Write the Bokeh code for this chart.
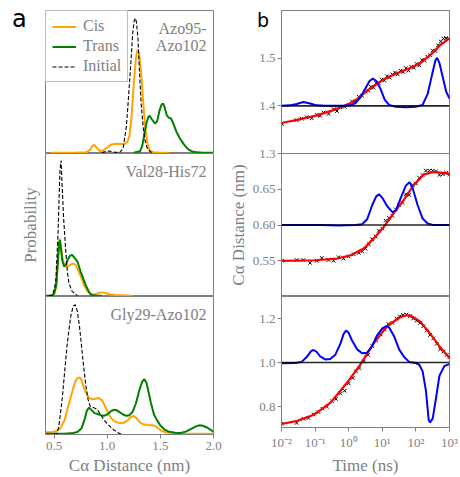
import numpy as np
from bokeh.plotting import figure
from bokeh.layouts import row, column
from bokeh.models import Range1d, FixedTicker, Label, Span, Legend, LegendItem, NumeralTickFormatter, Div
from bokeh.embed import file_html
from bokeh.resources import INLINE

# ---------------- data: panel a (probability distributions) ----------------
a1_cis_x = [0.47, 0.70, 0.80, 0.84, 0.865, 0.88, 0.90, 0.93, 0.96, 1.00, 1.04, 1.08, 1.12, 1.16, 1.19, 1.21, 1.23, 1.25, 1.27, 1.285, 1.30, 1.32, 1.34, 1.36, 1.38, 1.40, 1.43, 1.50, 1.58]
a1_cis_y = [0.0, 0.0, 0.002, 0.02, 0.05, 0.055, 0.035, 0.012, 0.015, 0.035, 0.058, 0.063, 0.060, 0.062, 0.075, 0.12, 0.26, 0.48, 0.66, 0.725, 0.70, 0.56, 0.34, 0.16, 0.06, 0.015, 0.003, 0.0, 0.0]
a1_trans_x = [1.25, 1.31, 1.33, 1.35, 1.37, 1.39, 1.40, 1.42, 1.45, 1.47, 1.49, 1.51, 1.525, 1.54, 1.56, 1.58, 1.60, 1.62, 1.65, 1.68, 1.72, 1.76, 1.80, 1.85, 1.90, 2.0]
a1_trans_y = [0.0, 0.01, 0.05, 0.13, 0.21, 0.255, 0.258, 0.235, 0.205, 0.22, 0.29, 0.335, 0.347, 0.32, 0.265, 0.245, 0.24, 0.21, 0.15, 0.105, 0.06, 0.025, 0.008, 0.002, 0.0, 0.0]
a1_init_x = [0.95, 0.99, 1.02, 1.05, 1.08, 1.12, 1.15, 1.18, 1.20, 1.22, 1.24, 1.255, 1.265, 1.275, 1.29, 1.305, 1.32, 1.34, 1.36, 1.38, 1.41, 1.44]
a1_init_y = [0.0, 0.008, 0.012, 0.006, 0.002, 0.003, 0.03, 0.18, 0.38, 0.60, 0.84, 0.93, 0.946, 0.92, 0.80, 0.55, 0.34, 0.17, 0.07, 0.025, 0.005, 0.0]

a2_cis_x = [0.42, 0.47, 0.50, 0.52, 0.535, 0.548, 0.555, 0.565, 0.58, 0.60, 0.625, 0.65, 0.68, 0.70, 0.72, 0.75, 0.78, 0.81, 0.84, 0.88, 0.92, 0.95, 0.98, 1.02, 1.08, 1.24]
a2_cis_y = [0.0, 0.0, 0.01, 0.06, 0.22, 0.37, 0.40, 0.35, 0.26, 0.21, 0.205, 0.215, 0.225, 0.22, 0.19, 0.14, 0.08, 0.035, 0.012, 0.008, 0.018, 0.023, 0.02, 0.01, 0.004, 0.0]
a2_trans_x = [0.42, 0.47, 0.50, 0.52, 0.535, 0.548, 0.555, 0.565, 0.58, 0.595, 0.61, 0.63, 0.65, 0.67, 0.69, 0.72, 0.75, 0.77, 0.80, 0.83, 0.85, 0.90, 0.95]
a2_trans_y = [0.0, 0.0, 0.01, 0.07, 0.22, 0.37, 0.39, 0.33, 0.24, 0.205, 0.215, 0.255, 0.28, 0.287, 0.27, 0.24, 0.17, 0.13, 0.07, 0.025, 0.005, 0.0, 0.0]
a2_init_x = [0.45, 0.485, 0.516, 0.538, 0.556, 0.566, 0.575, 0.59, 0.61, 0.625, 0.64, 0.67, 0.72]
a2_init_y = [0.0, 0.0, 0.09, 0.44, 0.88, 0.951, 0.80, 0.55, 0.32, 0.17, 0.09, 0.03, 0.0]

a3_cis_x = [0.42, 0.48, 0.52, 0.56, 0.60, 0.63, 0.656, 0.68, 0.70, 0.72, 0.744, 0.76, 0.78, 0.80, 0.83, 0.86, 0.89, 0.92, 0.95, 0.98, 1.01, 1.04, 1.07, 1.10, 1.13, 1.16, 1.19, 1.22, 1.25, 1.28, 1.31, 1.34, 1.38, 1.42, 1.45, 1.48, 1.51, 1.55, 1.60, 1.70, 2.0]
a3_cis_y = [0.01, 0.012, 0.018, 0.04, 0.10, 0.19, 0.26, 0.33, 0.38, 0.405, 0.41, 0.39, 0.34, 0.30, 0.26, 0.25, 0.255, 0.26, 0.245, 0.20, 0.15, 0.11, 0.09, 0.08, 0.078, 0.08, 0.095, 0.12, 0.13, 0.11, 0.08, 0.068, 0.063, 0.062, 0.058, 0.04, 0.022, 0.01, 0.003, 0.0, 0.0]
a3_trans_x = [0.42, 0.60, 0.68, 0.72, 0.76, 0.79, 0.81, 0.83, 0.85, 0.88, 0.91, 0.94, 0.97, 1.00, 1.03, 1.06, 1.09, 1.12, 1.15, 1.18, 1.21, 1.24, 1.27, 1.30, 1.33, 1.35, 1.37, 1.39, 1.41, 1.44, 1.47, 1.50, 1.54, 1.58, 1.64, 1.69, 1.74, 1.79, 1.84, 1.87, 1.90, 1.94, 1.97, 2.0]
a3_trans_y = [0.0, 0.0, 0.005, 0.012, 0.04, 0.11, 0.17, 0.19, 0.175, 0.15, 0.143, 0.135, 0.13, 0.14, 0.16, 0.174, 0.17, 0.155, 0.14, 0.13, 0.135, 0.16, 0.22, 0.31, 0.38, 0.397, 0.37, 0.30, 0.23, 0.14, 0.097, 0.06, 0.03, 0.015, 0.006, 0.005, 0.015, 0.035, 0.055, 0.061, 0.058, 0.045, 0.03, 0.014]
a3_init_x = [0.50, 0.53, 0.55, 0.578, 0.60, 0.625, 0.656, 0.68, 0.70, 0.72, 0.74, 0.76, 0.78, 0.80, 0.82, 0.84, 0.87, 0.90, 0.93, 0.97, 1.01, 1.05, 1.09, 1.12, 1.15]
a3_init_y = [0.0, 0.0, 0.08, 0.26, 0.45, 0.66, 0.85, 0.93, 0.94, 0.89, 0.78, 0.63, 0.48, 0.35, 0.25, 0.20, 0.19, 0.18, 0.15, 0.10, 0.065, 0.035, 0.012, 0.0, 0.0]

pair_names = ["Azo95-\nAzo102", "Val28-His72", "Gly29-Azo102"]
panel_letters = ["a", "b"]

# ---------------- data: panel b (time traces), times as log10(ns) ----------------
b1_fit_lt = [-2.0, -1.5, -1.0, -0.5, -0.2, 0.0, 0.25, 0.45, 0.75, 1.05, 1.45, 1.85, 2.15, 2.45, 2.75, 3.0]
b1_fit_v = [1.364, 1.371, 1.379, 1.390, 1.398, 1.404, 1.414, 1.426, 1.442, 1.456, 1.469, 1.480, 1.491, 1.508, 1.529, 1.542]
b1_spec_lt = [-2.0, -1.75, -1.55, -1.35, -1.15, -0.95, -0.7, -0.2, 0.05, 0.2, 0.35, 0.5, 0.62, 0.72, 0.82, 0.95, 1.07, 1.2, 1.4, 1.7, 2.0, 2.2, 2.35, 2.48, 2.58, 2.63, 2.7, 2.8, 2.9, 3.0]
b1_spec_v = [1.400, 1.401, 1.404, 1.408, 1.405, 1.401, 1.400, 1.400, 1.401, 1.406, 1.418, 1.437, 1.452, 1.457, 1.452, 1.435, 1.413, 1.402, 1.398, 1.397, 1.398, 1.402, 1.425, 1.465, 1.495, 1.5006, 1.49, 1.46, 1.43, 1.415]
b1_obs_lt = [-1.98, -1.55, -1.40, -1.25, -1.10, -0.95, -0.85, -0.75, -0.60, -0.45, -0.35, -0.25, -0.12, 0.0, 0.10, 0.20, 0.30, 0.40, 0.50, 0.58, 0.66, 0.74, 0.82, 0.90, 0.98, 1.06, 1.14, 1.22, 1.30, 1.38, 1.46, 1.54, 1.62, 1.70, 1.78, 1.86, 1.94, 2.02, 2.10, 2.18, 2.26, 2.34, 2.42, 2.50, 2.58, 2.66, 2.74, 2.82, 2.90, 2.98]
b1_obs_v = [1.362, 1.370, 1.373, 1.376, 1.374, 1.381, 1.379, 1.386, 1.383, 1.393, 1.389, 1.397, 1.398, 1.402, 1.409, 1.410, 1.419, 1.421, 1.430, 1.432, 1.440, 1.438, 1.448, 1.447, 1.455, 1.453, 1.462, 1.459, 1.466, 1.470, 1.466, 1.474, 1.471, 1.479, 1.474, 1.482, 1.480, 1.488, 1.485, 1.496, 1.495, 1.503, 1.506, 1.516, 1.515, 1.527, 1.535, 1.541, 1.542, 1.540]
b1_base = 1.4

b2_fit_lt = [-2.0, -1.0, -0.35, 0.06, 0.45, 0.75, 1.05, 1.34, 1.64, 1.94, 2.23, 2.53, 2.8, 3.0]
b2_fit_v = [0.5497, 0.5507, 0.5531, 0.5577, 0.5672, 0.5813, 0.5976, 0.6165, 0.6352, 0.6563, 0.6704, 0.6742, 0.673, 0.6714]
b2_spec_lt = [-2.0, -0.8, -0.3, 0.2, 0.4, 0.55, 0.7, 0.82, 0.9, 1.0, 1.15, 1.3, 1.4, 1.55, 1.7, 1.81, 1.9, 2.05, 2.2, 2.35, 2.5, 3.0]
b2_spec_v = [0.600, 0.600, 0.5994, 0.600, 0.601, 0.608, 0.628, 0.640, 0.643, 0.638, 0.626, 0.618, 0.620, 0.638, 0.655, 0.660, 0.652, 0.628, 0.609, 0.602, 0.600, 0.600]
b2_obs_lt = [-1.98, -1.55, -1.35, -1.15, -0.95, -0.8, -0.6, -0.45, -0.3, -0.15, 0.0, 0.15, 0.3, 0.4, 0.5, 0.6, 0.7, 0.8, 0.9, 1.0, 1.1, 1.2, 1.3, 1.4, 1.5, 1.6, 1.7, 1.8, 1.9, 2.0, 2.1, 2.2, 2.3, 2.4, 2.5, 2.6, 2.7, 2.8, 2.9, 3.0]
b2_obs_v = [0.550, 0.551, 0.551, 0.547, 0.550, 0.554, 0.551, 0.550, 0.555, 0.553, 0.556, 0.559, 0.561, 0.563, 0.567, 0.573, 0.580, 0.584, 0.592, 0.595, 0.606, 0.610, 0.613, 0.622, 0.628, 0.631, 0.643, 0.642, 0.656, 0.658, 0.666, 0.670, 0.676, 0.676, 0.676, 0.675, 0.670, 0.671, 0.673, 0.671]
b2_base = 0.6

b3_fit_lt = [-2.0, -1.53, -1.04, -0.54, -0.05, 0.35, 0.75, 1.14, 1.54, 1.72, 1.84, 2.13, 2.43, 2.73, 3.0]
b3_fit_v = [0.721, 0.735, 0.7625, 0.818, 0.908, 0.992, 1.089, 1.165, 1.207, 1.214, 1.214, 1.186, 1.130, 1.068, 1.020]
b3_spec_lt = [-2.0, -1.6, -1.4, -1.25, -1.12, -1.05, -0.95, -0.85, -0.7, -0.55, -0.4, -0.25, -0.15, -0.08, 0.0, 0.1, 0.25, 0.4, 0.55, 0.7, 0.85, 1.0, 1.12, 1.2, 1.35, 1.5, 1.65, 1.8, 2.0, 2.1, 2.2, 2.3, 2.38, 2.42, 2.5, 2.6, 2.7, 2.85, 3.0]
b3_spec_v = [0.997, 0.998, 1.003, 1.025, 1.052, 1.057, 1.048, 1.028, 1.014, 1.016, 1.035, 1.085, 1.13, 1.145, 1.135, 1.10, 1.06, 1.042, 1.045, 1.075, 1.125, 1.155, 1.165, 1.160, 1.12, 1.06, 1.025, 1.003, 0.998, 0.99, 0.96, 0.87, 0.74, 0.728, 0.745, 0.84, 0.94, 0.985, 0.993]
b3_obs_lt = [-2.0, -1.55, -1.35, -1.2, -1.05, -0.9, -0.78, -0.65, -0.5, -0.38, -0.25, -0.12, 0.0, 0.12, 0.22, 0.32, 0.45, 0.58, 0.7, 0.82, 0.95, 1.07, 1.18, 1.3, 1.42, 1.52, 1.62, 1.72, 1.82, 1.92, 2.02, 2.12, 2.22, 2.32, 2.42, 2.52, 2.62, 2.72, 2.82, 2.92, 3.0]
b3_obs_v = [0.722, 0.726, 0.745, 0.748, 0.765, 0.775, 0.79, 0.80, 0.825, 0.835, 0.86, 0.872, 0.905, 0.93, 0.96, 0.975, 1.005, 1.035, 1.075, 1.10, 1.128, 1.15, 1.175, 1.18, 1.20, 1.21, 1.216, 1.218, 1.21, 1.20, 1.19, 1.18, 1.165, 1.145, 1.125, 1.11, 1.085, 1.06, 1.05, 1.035, 1.025]
b3_base = 1.0

b_ranges = [(1.3, 1.6), (0.5, 0.7), (0.705, 1.3)]
b_ticks = [[1.3, 1.4, 1.5], [0.55, 0.60, 0.65], [0.8, 1.0, 1.2]]
b_formats = ["0.0", "0.00", "0.0"]
time_ticks = [0.01, 0.1, 1.0, 10.0, 100.0, 1000.0]
time_tick_labels = ["10\u207b\u00b2", "10\u207b\u00b9", "10\u2070", "10\u00b9", "10\u00b2", "10\u00b3"]

# ---------------- style ----------------
SERIF = "Liberation Serif"
GRAY = "#808080"
TICK_FS = "13px"
LABEL_FS = "17px"
FRAMES = [143, 143, 142]
TOP = 10
BOTTOM = 39
OVERLAP = 9
LEFT_W, RIGHT_W = 223, 237
HEAD = 30


def style_common(p):
    p.grid.visible = False
    p.outline_line_color = GRAY
    p.outline_line_width = 1
    p.background_fill_color = "white"
    p.border_fill_color = "white"
    for ax in p.axis:
        ax.axis_line_color = GRAY
        ax.major_tick_line_color = GRAY
        ax.minor_tick_line_color = None
        ax.major_tick_out = 4
        ax.major_tick_in = 0
        ax.major_label_text_font = SERIF
        ax.major_label_text_font_size = TICK_FS
        ax.major_label_text_color = GRAY
        ax.axis_label_text_font = SERIF
        ax.axis_label_text_font_size = LABEL_FS
        ax.axis_label_text_color = GRAY
        ax.axis_label_text_font_style = "normal"
        ax.major_label_standoff = 3
        ax.axis_label_standoff = 3


# ---------------- left column ----------------
a_data = [
    (a1_cis_x, a1_cis_y, a1_trans_x, a1_trans_y, a1_init_x, a1_init_y),
    (a2_cis_x, a2_cis_y, a2_trans_x, a2_trans_y, a2_init_x, a2_init_y),
    (a3_cis_x, a3_cis_y, a3_trans_x, a3_trans_y, a3_init_x, a3_init_y),
]
left_figs = []
for i in range(3):
    last = i == 2
    top = TOP if i == 0 else 0
    bot = BOTTOM if last else 0
    p = figure(width=LEFT_W, height=FRAMES[i] + top + bot,
               x_range=Range1d(0.42, 2.0), y_range=Range1d(-0.006, 1.0),
               output_backend="svg", toolbar_location=None,
               x_axis_location="below" if last else None,
               min_border_left=45, min_border_right=10,
               min_border_top=top, min_border_bottom=bot)
    cx, cy, tx, ty, ix, iy = a_data[i]
    r_cis = p.line(cx, cy, line_color="orange", line_width=2)
    r_tr = p.line(tx, ty, line_color="green", line_width=2)
    r_in = p.line(ix, iy, line_color="black", line_width=1.1, line_dash="4 2")
    p.yaxis.ticker = FixedTicker(ticks=[])
    if last:
        p.xaxis.ticker = FixedTicker(ticks=[0.5, 1.0, 1.5, 2.0])
        p.xaxis.formatter = NumeralTickFormatter(format="0.0")
        p.xaxis.axis_label = "C\u03b1 Distance (nm)"
    if i == 1:
        p.yaxis.axis_label = "Probability"
    style_common(p)
    p.yaxis.major_tick_out = 0
    p.yaxis.axis_label_standoff = 6
    p.add_layout(Label(x=2.0, y=1.0, x_units="data", y_units="data", x_offset=-7, y_offset=-9,
                       text=pair_names[i], text_align="right", text_baseline="top",
                       text_font=SERIF, text_font_size="16px", text_color=GRAY,
                       text_line_height=1.05))
    if i == 0:
        leg = Legend(items=[LegendItem(label="Cis", renderers=[r_cis]),
                            LegendItem(label="Trans", renderers=[r_tr]),
                            LegendItem(label="Initial", renderers=[r_in])],
                     location="top_left", margin=0, padding=6, spacing=2,
                     glyph_width=24, glyph_height=17, label_height=17, label_standoff=7,
                     label_text_font=SERIF, label_text_font_size="16px", label_text_color=GRAY,
                     border_line_color=GRAY, border_line_width=1, background_fill_alpha=1.0)
        p.add_layout(leg)
        p.border_fill_alpha = 0.0
    left_figs.append(p)

# ---------------- right column ----------------
b_data = [
    (b1_fit_lt, b1_fit_v, b1_spec_lt, b1_spec_v, b1_obs_lt, b1_obs_v, b1_base),
    (b2_fit_lt, b2_fit_v, b2_spec_lt, b2_spec_v, b2_obs_lt, b2_obs_v, b2_base),
    (b3_fit_lt, b3_fit_v, b3_spec_lt, b3_spec_v, b3_obs_lt, b3_obs_v, b3_base),
]
right_figs = []
for i in range(3):
    last = i == 2
    top = TOP if i == 0 else 0
    bot = BOTTOM if last else (OVERLAP if i == 0 else 0)
    kw = {}
    if i == 1:
        kw["margin"] = (-OVERLAP, 0, 0, 0)
    p = figure(width=RIGHT_W, height=FRAMES[i] + top + bot,
               x_axis_type="log", x_range=Range1d(0.01, 1000.0),
               y_range=Range1d(*b_ranges[i]),
               output_backend="svg", toolbar_location=None,
               x_axis_location="below" if last else None,
               min_border_left=58, min_border_right=11,
               min_border_top=top, min_border_bottom=bot, **kw)
    flt, fv, slt, sv, olt, ov, base = b_data[i]
    p.add_layout(Span(location=base, dimension="width", line_color="black", line_width=1.6, line_alpha=0.85))
    p.scatter(10 ** np.array(olt), ov, marker="x", size=5, line_color="black", line_width=1)
    p.line(10 ** np.array(flt), fv, line_color="red", line_width=2.2)
    p.line(10 ** np.array(slt), sv, line_color="blue", line_width=2)
    p.yaxis.ticker = FixedTicker(ticks=b_ticks[i])
    p.yaxis.formatter = NumeralTickFormatter(format=b_formats[i])
    if last:
        p.xaxis.ticker = FixedTicker(ticks=time_ticks, minor_ticks=[])
        p.xaxis.major_label_overrides = dict(zip(time_ticks, time_tick_labels))
        p.xaxis.axis_label = "Time (ns)"
    if i == 1:
        p.yaxis.axis_label = "C\u03b1 Distance (nm)"
    style_common(p)
    p.yaxis.major_label_standoff = 2
    p.yaxis.axis_label_standoff = 2
    if i in (0, 1):
        p.border_fill_alpha = 0.0
    right_figs.append(p)


def letter_div(text, pad_left, size, top, width):
    html = ('<div style="margin:0;padding:0 0 0 %dpx;position:relative;top:%dpx;'
            'font-family:\'DejaVu Sans\',sans-serif;font-size:%s;line-height:30px;color:#000;">%s</div>'
            % (pad_left, top, size, text))
    return Div(text=html, width=width, height=HEAD, margin=0)


head = row(letter_div(panel_letters[0], 12, "24px", 4, LEFT_W),
           letter_div(panel_letters[1], 257 - LEFT_W, "19px", 5, RIGHT_W))
body = row(column(*left_figs), column(*right_figs), margin=(-HEAD, 0, 0, 0))
layout = column(head, body)
open("out.html", "w").write(file_html(layout, INLINE))
